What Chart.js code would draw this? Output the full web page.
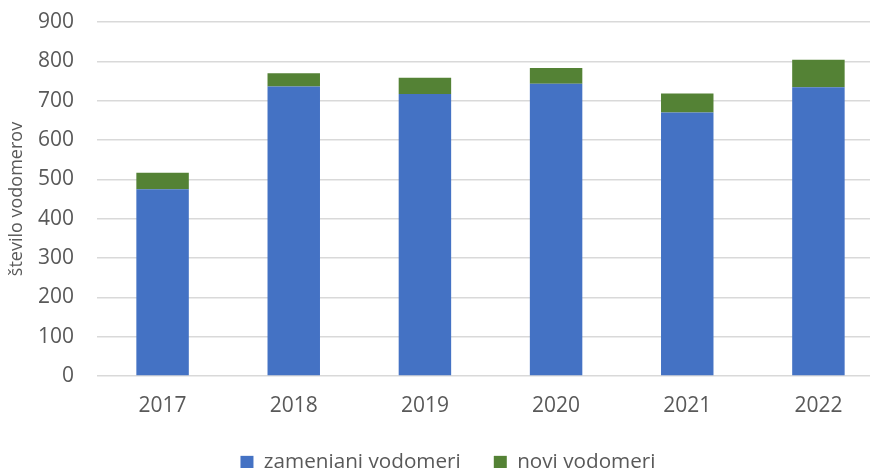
<!DOCTYPE html>
<html>
<head>
<meta charset="utf-8">
<script src="https://cdn.jsdelivr.net/npm/chart.js@4"></script>
<style>
  html, body { margin: 0; padding: 0; background: #fff; overflow: hidden; }
  #wrap { position: absolute; left: 0; top: 0; width: 884px; height: 479px; }
</style>
</head>
<body>
<div id="wrap"><canvas id="chart"></canvas></div>
<script>
// podatki
const years = ["2017", "2018", "2019", "2020", "2021", "2022"];
const zamenjani = [475, 736, 717, 743, 670, 734];
const novi = [42, 34, 41, 40, 48, 70];
const yTicks = [0, 100, 200, 300, 400, 500, 600, 700, 800, 900];

window.onload = main;

// fiksna visina legende (razmik med elementi je vecji kot navpicni)
const legendHeight = {
    id: "legendHeight",
    beforeInit(chart) {
        const fit = chart.legend.fit;
        chart.legend.fit = function () {
            fit.bind(chart.legend)();
            this.height = 60;
        };
    },
    afterLayout(chart) {
        // malo v desno, kot v originalu
        chart.legend.left += 6;
        chart.legend.right += 6;
    }
};

function main(){
    const font = "'Open Sans', 'DejaVu Sans', sans-serif";
    const grey = "#595959";

    new Chart(document.getElementById("chart"), {
        type: "bar",
        data: {
            labels: years,
            datasets: [
                {
                    label: "zamenjani vodomeri",
                    backgroundColor: "#4472C4",
                    data: zamenjani
                },
                {
                    label: "novi vodomeri",
                    backgroundColor: "#548235",
                    data: novi
                }
            ]
        },
        plugins: [legendHeight],
        options: {
            responsive: true,
            maintainAspectRatio: false,
            animation: false,
            barPercentage: 0.4,
            categoryPercentage: 1,
            layout: { padding: { top: 22, left: 0, right: 0, bottom: 0 } },
            plugins: {
                tooltip: { enabled: false },
                legend: {
                    position: "bottom",
                    labels: {
                        color: grey,
                        font: { family: font, size: 20.7 },
                        boxWidth: 13,
                        boxHeight: 13,
                        padding: 33
                    }
                }
            },
            scales: {
                x: {
                    stacked: true,
                    afterFit: function (s) { s.height = 43; },
                    grid: { display: false, drawTicks: false },
                    border: { display: false },
                    ticks: { color: grey, font: { family: font, size: 21 }, padding: 17 }
                },
                y: {
                    stacked: true,
                    min: 0,
                    max: 900,
                    afterFit: function (s) {
                        s.width = 97;
                        s.paddingTop = 0;
                        s.paddingBottom = 0;
                    },
                    afterBuildTicks: function (s) { s.ticks = yTicks.map(v => ({ value: v })); },
                    grid: { color: "#d9d9d9", lineWidth: 1.5, drawTicks: false },
                    border: { display: false },
                    ticks: { color: grey, font: { family: font, size: 21 }, padding: 23 },
                    title: {
                        display: true,
                        text: "število vodomerov",
                        color: grey,
                        font: { family: font, size: 18 },
                        padding: { top: 6, bottom: 0 }
                    }
                }
            }
        }
    });
}
</script>
</body>
</html>
